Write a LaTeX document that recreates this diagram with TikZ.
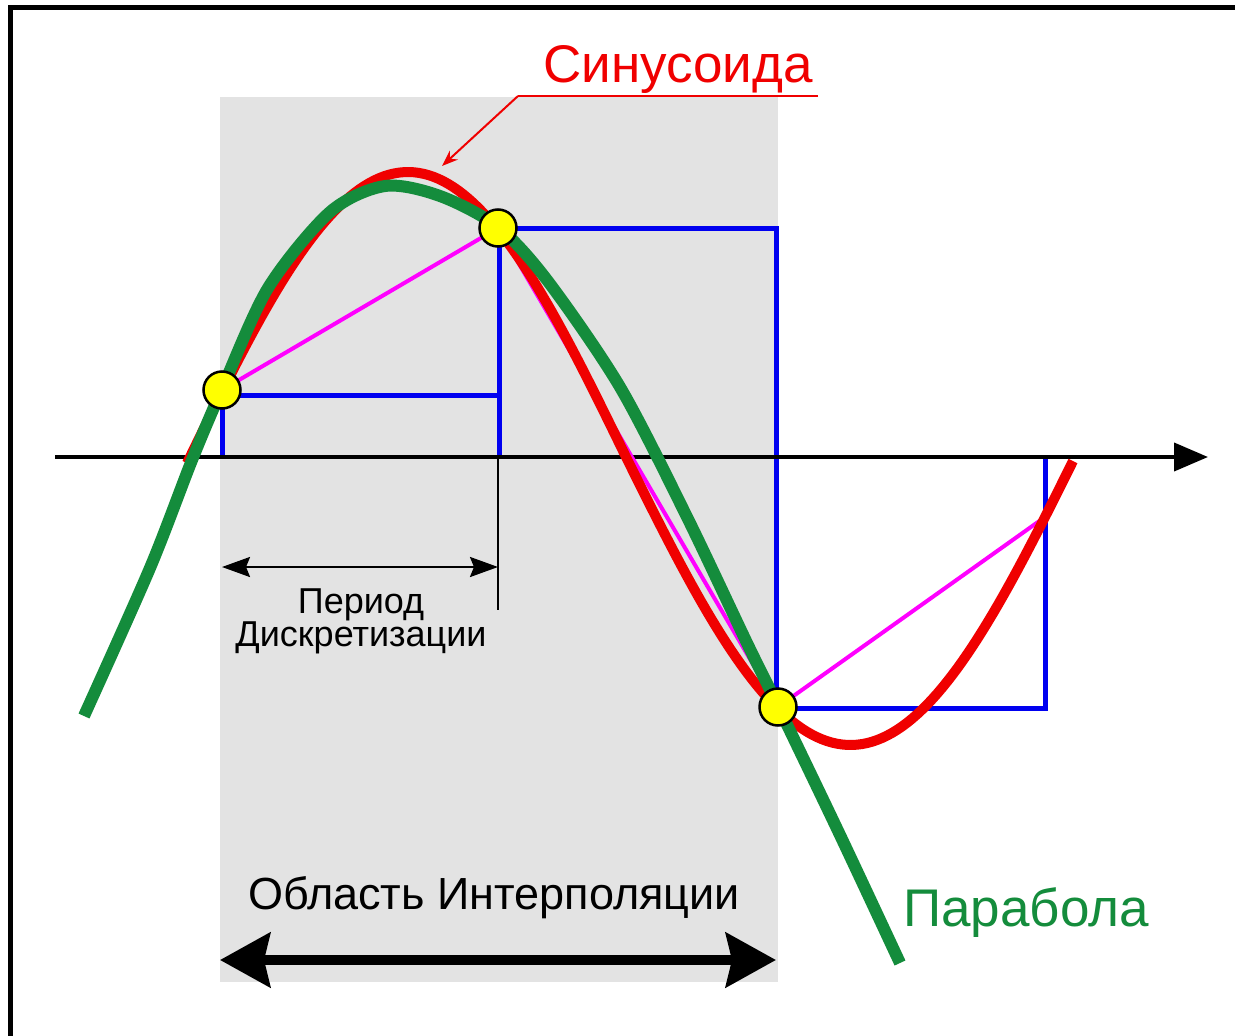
\documentclass[tikz,border=0pt]{standalone}
\usepackage{fontspec}
\setmainfont{Liberation Sans}
\usetikzlibrary{arrows.meta}
\definecolor{bgGrey}{RGB}{227,227,227}
\definecolor{sinRed}{RGB}{240,0,0}
\definecolor{parGreen}{RGB}{20,140,60}
\definecolor{stepBlue}{RGB}{0,0,240}
\definecolor{linMag}{RGB}{255,0,255}
\definecolor{dotYellow}{RGB}{255,255,0}
\tikzset{
  frameline/.style={line width=5pt, black},
  axisline/.style={line width=4pt, black, -{Triangle[length=34pt,width=28pt]}},
  stepline/.style={line width=5pt, stepBlue},
  chord/.style={line width=4pt, linMag},
  sinecurve/.style={line width=10pt, sinRed},
  parcurve/.style={line width=12pt, parGreen},
  sample/.style={circle, fill=dotYellow, draw=black, line width=2.5pt, minimum size=37pt, inner sep=0pt},
  dimarrow/.style={line width=2.5pt, black, {Stealth[length=28pt,width=20pt,inset=4pt]}-{Stealth[length=28pt,width=20pt,inset=4pt]}},
  bigarrow/.style={line width=10pt, black, {Stealth[length=50pt,width=54pt,inset=6pt]}-{Stealth[length=50pt,width=54pt,inset=6pt]}},
  leader/.style={line width=2pt, sinRed},
  lbl/.style={anchor=base, inner sep=0pt}
}
\begin{document}
\begin{tikzpicture}[x=1pt,y=-1pt]
\useasboundingbox (0,0) rectangle (1235,1036);
\fill[white] (0,0) rectangle (1235,1036);
% interpolation area
\fill[bgGrey] (220,97) rectangle (778,982);
% frame
\draw[frameline] (10.5,5) -- (10.5,1036);
\draw[frameline] (8,7.5) -- (1235,7.5);
% sample coordinates
\coordinate (c1) at (222,390);
\coordinate (c2) at (498,228);
\coordinate (c3) at (778,707);
\coordinate (c4) at (1045,517);
% blue steps
\draw[stepline] (222,457) -- (222,395) -- (499,395) -- (499,440);
\draw[stepline] (499,457) -- (499,228) -- (776,228) -- (776,708) -- (1045,708) -- (1045,457);
% axis
\coordinate (ax0) at (55,457);
\coordinate (ax1) at (1208,457);
\draw[axisline] (ax0) -- (ax1);
% period marker
\coordinate (pm0) at (498,457);
\coordinate (pm1) at (498,610);
\draw[line width=1.5pt] (pm0) -- (pm1);
\coordinate (pa0) at (222,567);
\coordinate (pa1) at (498,567);
\draw[dimarrow] (pa0) -- (pa1);
% chords
\draw[chord] (c1) -- (c2) -- (c3) -- (c4);
% sine
\draw[sinecurve] plot[domain=187:626, samples=90] (\x, {457-285*sin((\x-190)/218*90)})
  -- plot[domain=626:1073, samples=90] (\x, {457+288*sin((\x-626)/224.5*90)});
% parabola
\draw[parcurve] plot[smooth, tension=0.5] coordinates {(84,716) (150,568) (192,460) (222,389) (268,288) (330,212) (385,186) (440,196) (498,227) (547,280) (620,387) (687,517) (747,643) (778,706) (840,835) (900,963)};
% samples
\node[sample] (p1) at (c1) {};
\node[sample] (p2) at (c2) {};
\node[sample] (p3) at (c3) {};
% labels
\node[lbl, text=sinRed, font=\fontsize{53}{60}\selectfont] (sinlbl) at (678,82) {Синусоида};
\coordinate (ul0) at (518,96);
\coordinate (ul1) at (818,96);
\coordinate (tip) at (442,166);
\draw[leader] (ul1) -- (ul0);
\draw[leader, -{Stealth[length=16pt,width=12pt]}] (ul0) -- (tip);
\node[lbl, font=\fontsize{36}{40}\selectfont] (per1) at (361,613) {Период};
\node[lbl, font=\fontsize{36}{40}\selectfont] (per2) at (361,646) {Дискретизации};
\node[lbl, font=\fontsize{45}{50}\selectfont] (area) at (494,909) {Область Интерполяции};
\coordinate (ba0) at (220,960);
\coordinate (ba1) at (776,960);
\draw[bigarrow] (ba0) -- (ba1);
\node[lbl, text=parGreen, font=\fontsize{53}{60}\selectfont] (parlbl) at (1026,926) {Парабола};
\end{tikzpicture}
\end{document}
